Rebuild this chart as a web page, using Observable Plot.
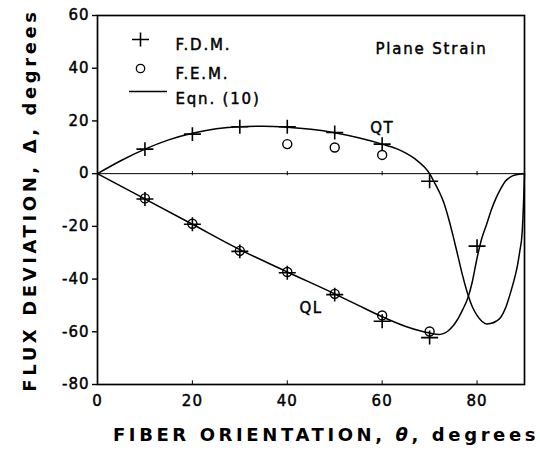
<!DOCTYPE html>
<html>
<head>
<meta charset="utf-8">
<script src="https://cdn.jsdelivr.net/npm/d3@7"></script>
<script src="https://cdn.jsdelivr.net/npm/@observablehq/plot@0.6"></script>
<style>
  html, body { margin: 0; padding: 0; background: #fff; }
  #chart svg { display: block; }
</style>
</head>
<body>
<div id="chart"></div>
<script>
// ---- Data ----
const xTicks = [0, 20, 40, 60, 80];
const yTicks = [-80, -60, -40, -20, 0, 20, 40, 60];
const xDomain = [0, 90];
const yDomain = [-80, 60];

// Eqn. (10) curves
const qtTheta = [0, 5, 10, 15, 20, 25, 30, 35, 40, 45, 50, 55, 60, 63, 65, 67, 69, 70, 71, 72, 73, 74, 75, 76, 77, 78, 79, 80, 81, 82, 83, 84, 85, 86, 87, 88, 88.5, 89, 89.5, 89.8, 90];
const qtDelta = [0, 5, 9.3, 12.8, 15.3, 17, 17.8, 18, 17.6, 16.8, 15.5, 13.6, 11.2, 9.5, 7.8, 5.5, 2.3, 0, -3.3, -6.8, -11, -17, -24, -31.5, -39, -45.5, -50.5, -53.8, -56, -57, -56.8, -56, -54.5, -51, -45.5, -39, -35, -29.5, -22.5, -11, 0];

const qlTheta = [0, 10, 20, 30, 40, 50, 55, 60, 65, 70, 72, 74, 76, 77, 78, 79, 80, 81, 82, 83, 84, 85, 86, 87, 88, 90];
const qlDelta = [0, -9.6, -19.2, -28.8, -37.3, -45.6, -50, -54.3, -58, -60.5, -61, -59.5, -55, -51.5, -47.5, -41, -32, -24.5, -19.3, -13.8, -9.3, -5.7, -2.8, -1.3, -0.5, 0];

// F.D.M. points
const fdmQtTheta = [10, 20, 30, 40, 50, 60, 70];
const fdmQtDelta = [9.3, 15.0, 17.8, 17.8, 15.6, 11.2, -2.9];
const fdmQlTheta = [10, 20, 30, 40, 50, 60, 70, 80];
const fdmQlDelta = [-9.6, -19.2, -29.5, -37.6, -45.9, -56, -62.2, -27.5];

// F.E.M. points
const femQtTheta = [40, 50, 60];
const femQtDelta = [11.2, 9.9, 7.1];
const femQlTheta = [10, 20, 30, 40, 50, 60, 70];
const femQlDelta = [-9.4, -19.0, -29.3, -37.3, -45.6, -53.8, -59.9];

// curve labels
const curveLabels = ["QT", "QL"];
const curveLabelTheta = [60, 45];
const curveLabelDelta = [17.3, -51];

const legendLabels = ["F.D.M.", "F.E.M.", "Eqn. (10)"];
const panelNote = "Plane Strain";
const xTitle = "FIBER ORIENTATION, θ, degrees";
const yTitle = "FLUX DEVIATION, Δ, degrees";

// ---- Build tables ----
const toRows = (xs, ys) => xs.map((x, i) => ({x, y: ys[i]}));
const qt = toRows(qtTheta, qtDelta);
const ql = toRows(qlTheta, qlDelta);
const fdm = [...toRows(fdmQtTheta, fdmQtDelta), ...toRows(fdmQlTheta, fdmQlDelta)];
const fem = [...toRows(femQtTheta, femQtDelta), ...toRows(femQlTheta, femQlDelta)];
const labels = curveLabels.map((t, i) => ({t, x: curveLabelTheta[i], y: curveLabelDelta[i]}));

// custom symbols
const plusSym = {
  draw(ctx, size) {
    const r = Math.sqrt(size / Math.PI);
    ctx.moveTo(-r, 0); ctx.lineTo(r, 0);
    ctx.moveTo(0, -r * 0.82); ctx.lineTo(0, r * 0.82);
  }
};
const hlineSym = {
  draw(ctx, size) {
    const r = Math.sqrt(size / Math.PI);
    ctx.moveTo(-r, 0); ctx.lineTo(r, 0);
  }
};

const font = "DejaVu Sans";

const chart = Plot.plot({
  width: 540,
  height: 453,
  marginLeft: 97,
  marginRight: 16,
  marginTop: 15,
  marginBottom: 69,
  x: {domain: xDomain},
  y: {domain: yDomain},
  style: {fontFamily: font, fontSize: "15px", color: "black", background: "white"},
  marks: [
    Plot.ruleY([0], {strokeWidth: 1}),
    Plot.ruleX(xTicks.filter(d => d > 0), {y1: -0.8, y2: 0.8, strokeWidth: 1}),
    Plot.ruleX(xTicks.filter(d => d > 0), {y1: yDomain[0], y2: yDomain[0] + 1.4, strokeWidth: 1}),
    Plot.axisY({ticks: yTicks, tickSize: 5, tickPadding: 3, tickFormat: d => String(d), fontSize: 15, label: null, strokeWidth: 1.4}),
    Plot.axisX({ticks: xTicks, tickSize: 0, tickPadding: 11, tickFormat: d => String(d), fontSize: 15, label: null}),
    Plot.frame({strokeWidth: 1.7}),
    Plot.line(qt, {x: "x", y: "y", curve: "monotone-x", strokeWidth: 1.5, stroke: "black"}),
    Plot.line(ql, {x: "x", y: "y", curve: "monotone-x", strokeWidth: 1.5, stroke: "black"}),
    Plot.dot(fem, {x: "x", y: "y", r: 4.5, stroke: "black", fill: "none", strokeWidth: 1.4}),
    Plot.dot(fdm, {x: "x", y: "y", r: 8.5, symbol: plusSym, stroke: "black", fill: "none", strokeWidth: 1.6}),
    Plot.text(labels, {x: "x", y: "y", text: "t", fontSize: 15, fill: "black"}),
    // legend
    Plot.dot([legendLabels[0]], {frameAnchor: "top-left", dx: 43, dy: 24, r: 8.5, symbol: plusSym, stroke: "black", fill: "none", strokeWidth: 1.6}),
    Plot.dot([legendLabels[1]], {frameAnchor: "top-left", dx: 43, dy: 53, r: 4.2, stroke: "black", fill: "none", strokeWidth: 1.3}),
    Plot.dot([legendLabels[2]], {frameAnchor: "top-left", dx: 50.5, dy: 76, r: 19, symbol: hlineSym, stroke: "black", fill: "none", strokeWidth: 1.5}),
    Plot.text([legendLabels[0]], {frameAnchor: "top-left", dx: 78, dy: 24, textAnchor: "start", fontSize: 15, fill: "black"}),
    Plot.text([legendLabels[1]], {frameAnchor: "top-left", dx: 78, dy: 53, textAnchor: "start", fontSize: 15, fill: "black"}),
    Plot.text([legendLabels[2]], {frameAnchor: "top-left", dx: 78, dy: 78, textAnchor: "start", fontSize: 15, fill: "black"}),
    Plot.text([panelNote], {frameAnchor: "top-left", dx: 278, dy: 28, textAnchor: "start", fontSize: 15, fill: "black"}),
    // axis titles
    Plot.text([xTitle], {frameAnchor: "bottom", dx: 15, dy: 56, textAnchor: "middle", fontSize: 18, fontWeight: "bold", fill: "black"}),
    Plot.text([yTitle], {frameAnchor: "left", dx: -67, dy: 0, rotate: -90, textAnchor: "middle", fontSize: 18, fontWeight: "bold", fill: "black"})
  ]
});

document.getElementById("chart").appendChild(chart);

// letter spacing, weight and italic theta (styling only)
d3.select(chart).selectAll("text").each(function () {
  const el = d3.select(this);
  const s = this.textContent;
  if (s === xTitle || s === yTitle) {
    el.attr("letter-spacing", "3.6px");
    if (s === xTitle) {
      const parts = s.split("θ");
      el.text(null);
      el.append("tspan").text(parts[0]);
      el.append("tspan").attr("font-style", "italic").text("θ");
      el.append("tspan").text(parts[1]);
    }
  } else {
    el.attr("stroke", "black").attr("stroke-width", 0.45);
    if (legendLabels.includes(s) || s === panelNote) {
      el.attr("letter-spacing", "1.8px");
    } else if (curveLabels.includes(s)) {
      el.attr("letter-spacing", "1.5px");
    } else {
      el.attr("letter-spacing", "1px");
    }
  }
});
</script>
</body>
</html>
